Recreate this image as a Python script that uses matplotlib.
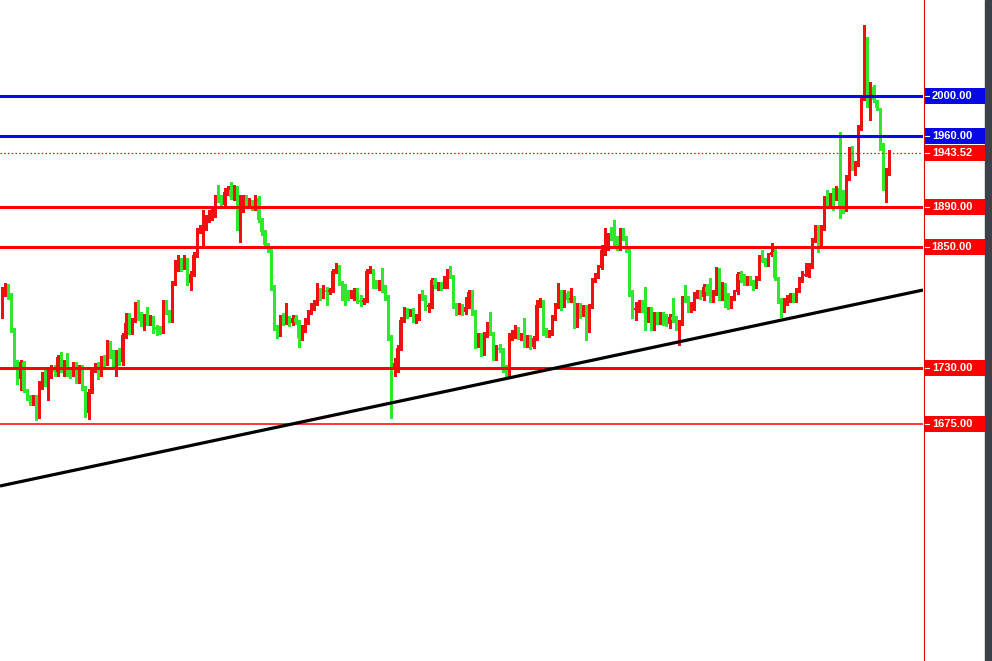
import matplotlib
matplotlib.use("Agg")
import matplotlib.pyplot as plt
import matplotlib.transforms as mtransforms
from matplotlib.patches import Rectangle
from matplotlib.lines import Line2D
import numpy as np

# candle data (open of each candle = previous close)
first_open = 1783
closes = [
    1808, 1810, 1802, 1768, 1733, 1720, 1736, 1709, 1702, 1697,
    1701, 1682, 1715, 1723, 1718, 1725, 1730, 1726, 1741, 1728,
    1735, 1726, 1725, 1733, 1718, 1731, 1711, 1686, 1707, 1728,
    1733, 1726, 1740, 1735, 1755, 1743, 1733, 1746, 1736, 1763,
    1775, 1766, 1778, 1793, 1781, 1775, 1781, 1775, 1780, 1771,
    1768, 1766, 1793, 1786, 1780, 1815, 1829, 1835, 1830, 1837,
    1815, 1824, 1842, 1867, 1868, 1872, 1877, 1880, 1884, 1899,
    1897, 1892, 1905, 1907, 1900, 1909, 1870, 1899, 1900, 1892,
    1895, 1889, 1899, 1877, 1865, 1852, 1847, 1811, 1771, 1763,
    1781, 1776, 1780, 1775, 1780, 1776, 1760, 1770, 1776, 1786,
    1791, 1796, 1805, 1802, 1808, 1806, 1808, 1827, 1833, 1815,
    1811, 1808, 1803, 1806, 1808, 1798, 1796, 1798, 1827, 1829,
    1813, 1812, 1815, 1808, 1801, 1761, 1728, 1735, 1750, 1778,
    1788, 1783, 1786, 1778, 1781, 1801, 1800, 1791, 1793, 1818,
    1813, 1814, 1811, 1814, 1827, 1821, 1793, 1786, 1791, 1786,
    1791, 1806, 1786, 1753, 1763, 1745, 1763, 1773, 1765, 1741,
    1750, 1748, 1728, 1723, 1763, 1764, 1770, 1762, 1763, 1753,
    1761, 1751, 1760, 1793, 1796, 1766, 1763, 1765, 1781, 1791,
    1798, 1791, 1805, 1798, 1800, 1773, 1793, 1783, 1791, 1768,
    1791, 1818, 1822, 1830, 1847, 1849, 1860, 1859, 1854, 1849,
    1867, 1859, 1847, 1805, 1788, 1790, 1795, 1788, 1778, 1788,
    1773, 1783, 1776, 1783, 1775, 1774, 1781, 1778, 1770, 1776,
    1800, 1798, 1788, 1790, 1803, 1806, 1801, 1811, 1806, 1798,
    1805, 1829, 1800, 1813, 1803, 1791, 1800, 1806, 1824, 1818,
    1815, 1820, 1815, 1811, 1820, 1839, 1837, 1834, 1842, 1845,
    1820, 1798, 1788, 1796, 1800, 1803, 1798, 1808, 1818, 1822,
    1824, 1832, 1857, 1870, 1857, 1870, 1899, 1892, 1900, 1897,
    1909, 1890, 1887, 1919, 1944, 1929, 1933, 1969, 1998, 2050,
    1991, 2009, 1996, 1988, 1949, 1919, 1925, 1943.52,
]
highs = [
    1811, 1815, 1814, 1805, 1770, 1738, 1738, 1737, 1710, 1704,
    1704, 1704, 1718, 1726, 1730, 1728, 1733, 1733, 1743, 1746,
    1738, 1745, 1728, 1736, 1736, 1733, 1733, 1713, 1710, 1730,
    1735, 1736, 1742, 1743, 1758, 1757, 1748, 1748, 1750, 1765,
    1785, 1785, 1780, 1796, 1798, 1786, 1784, 1791, 1783, 1782,
    1773, 1772, 1798, 1798, 1788, 1817, 1837, 1842, 1839, 1842,
    1839, 1827, 1845, 1869, 1872, 1887, 1882, 1887, 1889, 1902,
    1912, 1902, 1909, 1911, 1915, 1912, 1911, 1902, 1902, 1902,
    1899, 1897, 1902, 1901, 1879, 1867, 1854, 1850, 1813, 1773,
    1783, 1785, 1795, 1782, 1783, 1783, 1778, 1773, 1780, 1788,
    1795, 1798, 1815, 1810, 1813, 1811, 1810, 1829, 1834, 1833,
    1817, 1814, 1808, 1808, 1810, 1810, 1803, 1800, 1829, 1832,
    1829, 1818, 1818, 1830, 1813, 1803, 1763, 1740, 1753, 1781,
    1791, 1790, 1789, 1790, 1784, 1804, 1808, 1803, 1795, 1820,
    1820, 1816, 1816, 1822, 1829, 1832, 1823, 1795, 1795, 1794,
    1801, 1808, 1808, 1788, 1765, 1765, 1766, 1776, 1786, 1766,
    1753, 1754, 1750, 1733, 1765, 1768, 1773, 1771, 1765, 1780,
    1763, 1763, 1762, 1798, 1800, 1798, 1770, 1768, 1783, 1795,
    1815, 1808, 1808, 1807, 1810, 1802, 1795, 1795, 1793, 1793,
    1794, 1820, 1825, 1833, 1852, 1869, 1864, 1870, 1877, 1861,
    1869, 1869, 1861, 1849, 1808, 1796, 1798, 1798, 1811, 1791,
    1791, 1786, 1786, 1786, 1786, 1784, 1784, 1800, 1782, 1778,
    1802, 1813, 1802, 1796, 1806, 1808, 1808, 1814, 1814, 1820,
    1808, 1831, 1830, 1816, 1815, 1805, 1802, 1808, 1826, 1827,
    1824, 1822, 1822, 1818, 1822, 1842, 1847, 1839, 1844, 1854,
    1850, 1821, 1800, 1800, 1803, 1805, 1805, 1810, 1821, 1827,
    1834, 1834, 1859, 1872, 1872, 1872, 1901, 1907, 1904, 1909,
    1911, 1964, 1907, 1922, 1949, 1950, 1936, 1971, 2000, 2070,
    2058, 2014, 2011, 1996, 1986, 1953, 1929, 1946,
]
lows = [
    1780, 1802, 1799, 1766, 1730, 1715, 1709, 1707, 1699, 1694,
    1694, 1679, 1681, 1710, 1713, 1699, 1721, 1723, 1723, 1726,
    1723, 1723, 1721, 1723, 1716, 1716, 1709, 1682, 1680, 1706,
    1726, 1720, 1723, 1731, 1733, 1740, 1730, 1723, 1733, 1733,
    1760, 1764, 1764, 1776, 1778, 1772, 1768, 1773, 1773, 1765,
    1763, 1764, 1765, 1784, 1776, 1776, 1813, 1827, 1827, 1829,
    1813, 1808, 1822, 1840, 1864, 1852, 1867, 1875, 1877, 1880,
    1895, 1889, 1890, 1902, 1898, 1897, 1867, 1855, 1885, 1889,
    1890, 1887, 1887, 1875, 1862, 1849, 1845, 1808, 1768, 1760,
    1762, 1773, 1774, 1772, 1773, 1774, 1751, 1758, 1766, 1774,
    1784, 1788, 1793, 1798, 1800, 1793, 1804, 1806, 1825, 1813,
    1798, 1793, 1798, 1800, 1798, 1795, 1792, 1794, 1796, 1825,
    1810, 1810, 1808, 1806, 1798, 1758, 1681, 1723, 1726, 1748,
    1776, 1780, 1782, 1776, 1775, 1778, 1798, 1788, 1786, 1790,
    1810, 1808, 1808, 1810, 1810, 1820, 1790, 1783, 1784, 1783,
    1784, 1790, 1783, 1750, 1751, 1742, 1743, 1761, 1763, 1738,
    1738, 1746, 1726, 1721, 1722, 1758, 1760, 1759, 1758, 1751,
    1751, 1749, 1750, 1758, 1791, 1763, 1761, 1761, 1763, 1778,
    1790, 1788, 1793, 1796, 1796, 1770, 1771, 1780, 1782, 1758,
    1766, 1790, 1816, 1820, 1829, 1842, 1847, 1857, 1852, 1847,
    1847, 1857, 1845, 1802, 1780, 1778, 1786, 1786, 1768, 1776,
    1768, 1768, 1774, 1774, 1773, 1772, 1770, 1776, 1768, 1753,
    1773, 1796, 1786, 1786, 1788, 1800, 1799, 1798, 1803, 1796,
    1796, 1803, 1798, 1798, 1791, 1789, 1790, 1798, 1804, 1816,
    1813, 1813, 1813, 1808, 1810, 1818, 1835, 1832, 1832, 1841,
    1818, 1795, 1781, 1786, 1793, 1796, 1796, 1796, 1806, 1816,
    1822, 1821, 1830, 1855, 1845, 1852, 1867, 1890, 1890, 1887,
    1897, 1879, 1884, 1886, 1917, 1927, 1922, 1931, 1966, 1996,
    1989, 1976, 1994, 1986, 1946, 1907, 1895, 1922,
]

levels = [2000, 1960, 1890, 1850, 1730, 1675]
level_colors = ['#0808e6', '#0808e6', '#ff0000', '#ff0000', '#ff0000', '#ff0000']
level_widths = [2.2, 2.2, 2.2, 2.2, 2.2, 1.1]
current_price = 1943.52
trend_prices = [1613.5, 1807.7]   # trendline price at left and right edge

c = np.array(closes, dtype=float)
o = np.concatenate([[first_open], c[:-1]])
h = np.maximum(np.array(highs, dtype=float), np.maximum(o, c))
l = np.minimum(np.array(lows, dtype=float), np.minimum(o, c))
x = np.arange(len(c))

fig = plt.figure(figsize=(9.92, 6.61), dpi=100)
fig.patch.set_facecolor('white')
ax = fig.add_axes([0, 0, 923 / 992, 1])
for s in ax.spines.values():
    s.set_visible(False)
ax.set_xticks([])
ax.set_yticks([])

step = 887 / (len(c) - 1)
ax.set_xlim(-2 / step, 921 / step)
ax.set_ylim(1440.1, 2095.1)

up = c >= o
cols = np.where(up, '#f01010', '#2ee82e')
ax.vlines(x, l, h, colors=cols, linewidth=0.75, antialiased=False, zorder=2)
body = np.maximum(np.abs(c - o), 0.8)
ax.bar(x, body, bottom=np.minimum(o, c), width=0.78, color=cols, linewidth=0,
       antialiased=False, zorder=2)

for lv, col, lw in zip(levels, level_colors, level_widths):
    ax.axhline(lv, color=col, linewidth=lw, zorder=3)
ax.axhline(current_price, color='#ff0000', linewidth=0.9, linestyle=(0, (1.2, 1.8)), zorder=3)

trend_tr = mtransforms.blended_transform_factory(ax.transAxes, ax.transData)
ax.plot([0, 1], trend_prices, color='black', linewidth=2.3, transform=trend_tr,
        zorder=4, solid_capstyle='butt')

# separator line and right strip
fig.add_artist(Line2D([923.5 / 992, 923.5 / 992], [0, 1], color='#e00000', linewidth=0.8,
                      transform=fig.transFigure))
fig.add_artist(Rectangle((985 / 992, 0), 7 / 992, 1, transform=fig.transFigure, color='#3c4048'))

# price labels on the right
tr = mtransforms.blended_transform_factory(fig.transFigure, ax.transData)
labels = [(2000, '#0808e6'), (1960, '#0808e6'), (current_price, '#ff0000'),
          (1890, '#ff0000'), (1850, '#ff0000'), (1730, '#ff0000'), (1675, '#ff0000')]
for price, col in labels:
    fig.add_artist(Rectangle((924 / 992, price - 7.9), 61 / 992, 15.8, transform=tr,
                             facecolor=col, edgecolor='none'))
    fig.add_artist(Line2D([925 / 992, 929 / 992], [price, price], color='white',
                          linewidth=0.8, transform=tr))
    fig.text(952 / 992, price, f'{price:.2f}', transform=tr, color='white',
             fontsize=8, fontweight='bold', family='Liberation Sans',
             ha='center', va='center')

plt.savefig('out.png', dpi=100)
